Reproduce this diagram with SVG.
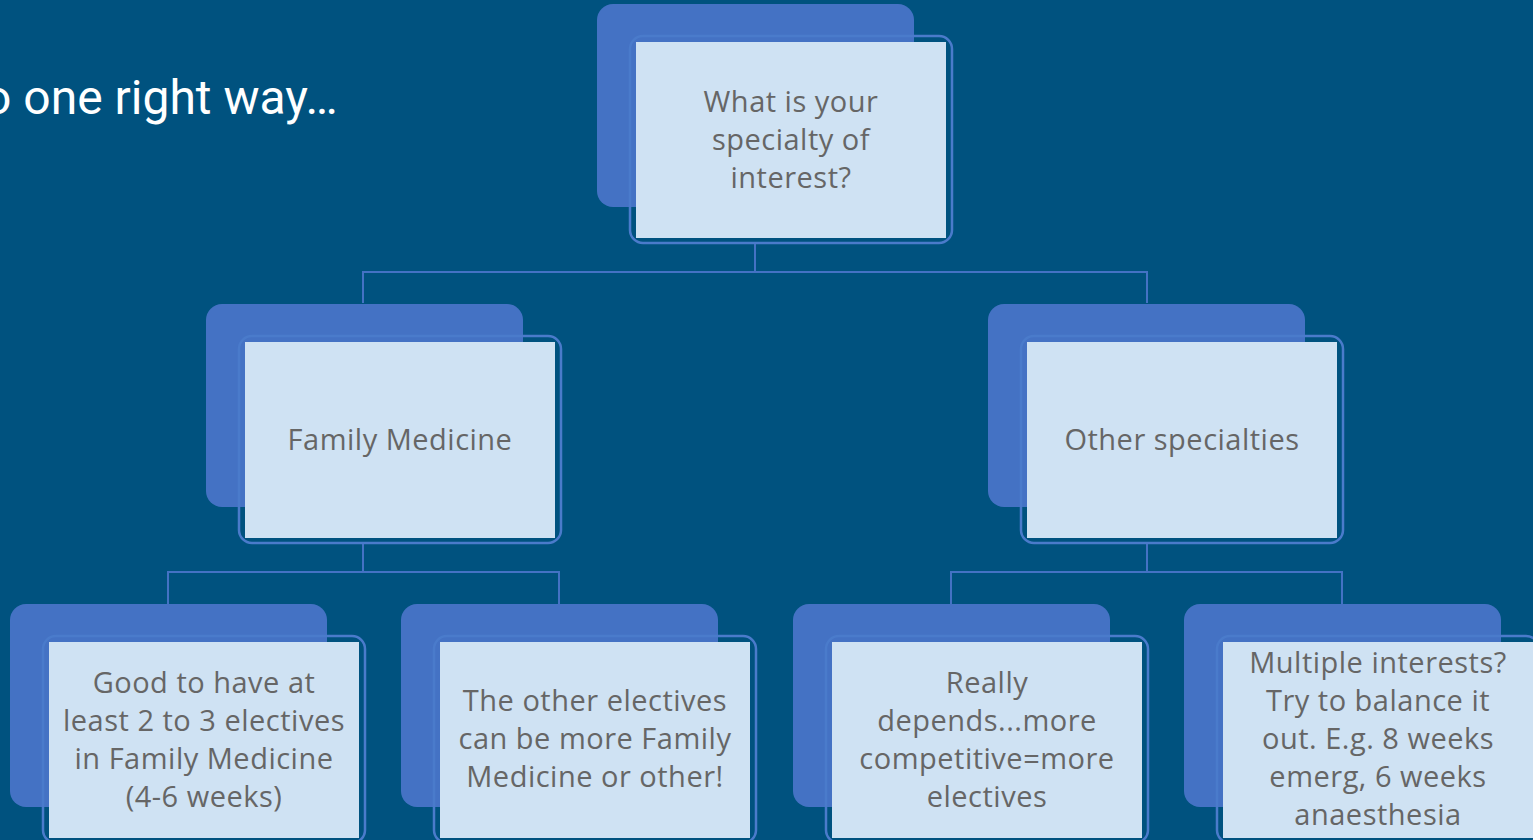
<svg xmlns="http://www.w3.org/2000/svg" width="1533" height="840" viewBox="0 0 1533 840">
<style>
.back{fill:#4472C4}
.outline{fill:none;stroke:#4A7BCB;stroke-width:2.5}
.face{fill:#CFE2F3}
.lbl{font-family:"Open Sans","Liberation Sans",sans-serif;font-size:29px;letter-spacing:0.5px;fill:#666666;text-anchor:middle}
.conn{fill:none;stroke:#4472C4;stroke-width:2}
.title{font-family:Roboto,"Liberation Sans",sans-serif;font-size:48px;fill:#FFFFFF}
</style>
<defs>
<g id="card">
<rect class="back" x="0" y="0" width="317" height="203" rx="16"/>
<rect class="outline" x="33" y="32" width="322" height="207" rx="13"/>
<rect class="face" x="39" y="38" width="310" height="196"/>
</g>
</defs>
<rect x="0" y="0" width="1533" height="840" fill="#00527F"/>
<text class="title" x="-16" y="114">o one right way…</text>
<g id="connectors">
<path class="conn" d="M755,243 V272 M363,303 V272 H1147 V303"/>
<path class="conn" d="M363,543 V572 M168,604 V572 H559 V604"/>
<path class="conn" d="M1147,543 V572 M951,604 V572 H1342 V604"/>
</g>
<g id="n-root">
<use href="#card" x="597" y="4"/>
<text class="lbl"><tspan x="791" y="112">What is your</tspan><tspan x="791" y="150">specialty of</tspan><tspan x="791" y="188">interest?</tspan></text>
</g>
<g id="n-fm">
<use href="#card" x="206" y="304"/>
<text class="lbl" x="400" y="450">Family Medicine</text>
</g>
<g id="n-other">
<use href="#card" x="988" y="304"/>
<text class="lbl" x="1182" y="450">Other specialties</text>
</g>
<g id="n-fm1">
<use href="#card" x="10" y="604"/>
<text class="lbl"><tspan x="204" y="693">Good to have at</tspan><tspan x="204" y="731">least 2 to 3 electives</tspan><tspan x="204" y="769">in Family Medicine</tspan><tspan x="204" y="807">(4-6 weeks)</tspan></text>
</g>
<g id="n-fm2">
<use href="#card" x="401" y="604"/>
<text class="lbl"><tspan x="595" y="711">The other electives</tspan><tspan x="595" y="749">can be more Family</tspan><tspan x="595" y="787">Medicine or other!</tspan></text>
</g>
<g id="n-o1">
<use href="#card" x="793" y="604"/>
<text class="lbl"><tspan x="987" y="693">Really</tspan><tspan x="987" y="731">depends...more</tspan><tspan x="987" y="769">competitive=more</tspan><tspan x="987" y="807">electives</tspan></text>
</g>
<g id="n-o2">
<use href="#card" x="1184" y="604"/>
<text class="lbl"><tspan x="1378" y="673">Multiple interests?</tspan><tspan x="1378" y="711">Try to balance it</tspan><tspan x="1378" y="749">out. E.g. 8 weeks</tspan><tspan x="1378" y="787">emerg, 6 weeks</tspan><tspan x="1378" y="825">anaesthesia</tspan></text>
</g>
</svg>
